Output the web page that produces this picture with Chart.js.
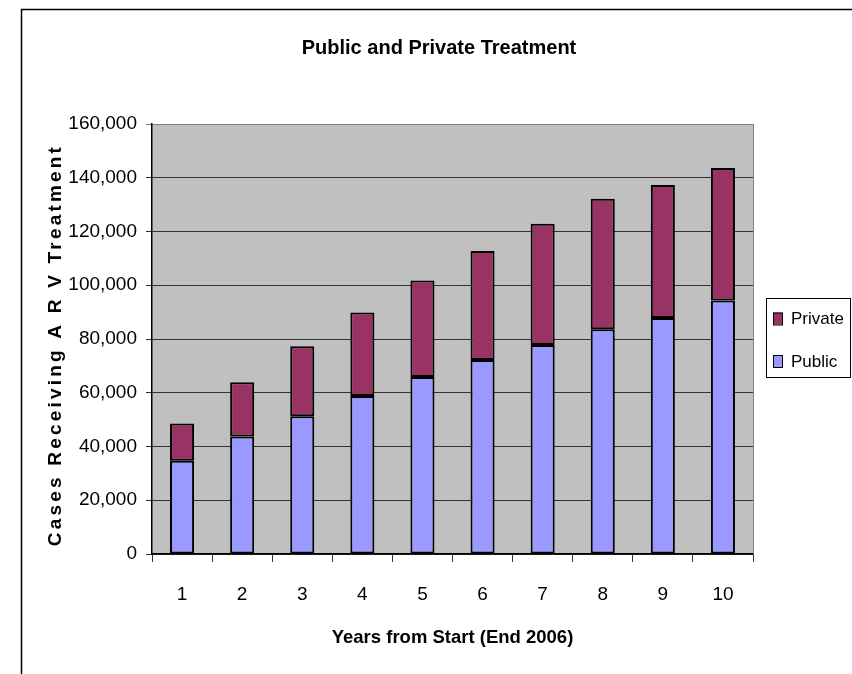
<!DOCTYPE html>
<html>
<head>
<meta charset="utf-8">
<script src="https://cdn.jsdelivr.net/npm/chart.js@4.4.1/dist/chart.umd.min.js"></script>
<style>
  html, body { margin: 0; padding: 0; background: #fff; }
  canvas { display: block; }
</style>
</head>
<body>
<canvas id="myChart" width="852" height="674"></canvas>
<script>
const years = ['1', '2', '3', '4', '5', '6', '7', '8', '9', '10'];
const publicCases = [34700, 43700, 51300, 58800, 65900, 72200, 77800, 83600, 87800, 94300];
const privateCases = [13900, 20200, 26000, 31100, 35900, 40500, 45100, 48600, 49500, 49300];
const yTicks = [0, 20000, 40000, 60000, 80000, 100000, 120000, 140000, 160000];

const sans = '"Liberation Sans", Arial, sans-serif';
const yTitle = 'Cases Receiving A R V Treatment';

// plot background, frame, legend and rotated y title
const decor = {
  id: 'decor',
  beforeDraw(chart) {
    const ctx = chart.ctx;
    const a = chart.chartArea;
    ctx.save();
    ctx.fillStyle = '#fff';
    ctx.fillRect(0, 0, chart.width, chart.height);
    ctx.fillStyle = '#c0c0c0';
    ctx.fillRect(a.left, a.top, a.right - a.left, a.bottom - a.top);
    ctx.restore();
  },
  afterDraw(chart) {
    const ctx = chart.ctx;
    const a = chart.chartArea;
    ctx.save();
    // outer frame (only left + top visible)
    ctx.strokeStyle = '#000';
    ctx.lineWidth = 1.5;
    ctx.beginPath();
    ctx.moveTo(21.5, chart.height);
    ctx.lineTo(21.5, 9.5);
    ctx.lineTo(chart.width, 9.5);
    ctx.stroke();
    // right border of plot
    ctx.strokeStyle = '#808080';
    ctx.lineWidth = 1;
    ctx.beginPath();
    ctx.moveTo(a.right + 0.5, a.top);
    ctx.lineTo(a.right + 0.5, a.bottom);
    ctx.stroke();

    // legend, private on top
    const items = chart.data.datasets.slice().reverse();
    ctx.strokeStyle = '#000';
    ctx.strokeRect(766.5, 298.5, 84, 79);
    ctx.font = '17px ' + sans;
    ctx.textAlign = 'left';
    ctx.textBaseline = 'middle';
    items.forEach((ds, i) => {
      const cy = 318.5 + i * 42.5;
      ctx.fillStyle = ds.backgroundColor;
      ctx.fillRect(773, cy - 6, 9, 12);
      ctx.strokeRect(773.5, cy - 5.5, 9, 12);
      ctx.fillStyle = '#000';
      ctx.fillText(ds.label, 791, cy + 1);
    });

    // y title with letter spacing
    ctx.fillStyle = '#000';
    ctx.font = 'bold 19px ' + sans;
    ctx.letterSpacing = '3.2px';
    ctx.textAlign = 'center';
    ctx.textBaseline = 'middle';
    ctx.translate(56, (a.top + a.bottom) / 2 + 6);
    ctx.rotate(-Math.PI / 2);
    ctx.fillText(yTitle, 0, 0);
    ctx.restore();
  }
};

const data = {
  labels: years,
  datasets: [{
    label: 'Public',
    data: publicCases,
    backgroundColor: '#9999ff',
    borderColor: '#000',
    borderWidth: 2,
    borderSkipped: false,
    barPercentage: 0.4,
    categoryPercentage: 1
  }, {
    label: 'Private',
    data: privateCases,
    backgroundColor: '#993366',
    borderColor: '#000',
    borderWidth: 2,
    borderSkipped: false,
    barPercentage: 0.4,
    categoryPercentage: 1
  }]
};

const config = {
  type: 'bar',
  data: data,
  plugins: [decor],
  options: {
    responsive: false,
    animation: false,
    devicePixelRatio: 1,
    layout: {
      padding: { left: 26, right: 0, top: 0, bottom: 0 }
    },
    plugins: {
      title: {
        display: true,
        text: 'Public and Private Treatment',
        color: '#000',
        font: { family: sans, size: 20, weight: 'bold' },
        padding: { top: 36, bottom: 64 }
      },
      legend: { display: false },
      tooltip: { enabled: false }
    },
    scales: {
      x: {
        stacked: true,
        afterFit(scale) { scale.height = 120; },
        grid: {
          offset: true,
          drawOnChartArea: false,
          tickLength: 8,
          color: '#333'
        },
        border: { color: '#000', width: 1.5 },
        ticks: {
          color: '#000',
          font: { family: sans, size: 19 },
          padding: 21,
          maxRotation: 0
        },
        title: {
          display: true,
          text: 'Years from Start (End 2006)',
          color: '#000',
          font: { family: sans, size: 18.5, weight: 'bold' },
          padding: { top: 0, bottom: 25 }
        }
      },
      y: {
        stacked: true,
        min: 0,
        max: 160000,
        afterFit(scale) { scale.width = 152 - 26; },
        afterBuildTicks(scale) { scale.ticks = yTicks.map(v => ({ value: v })); },
        grid: {
          tickLength: 6,
          color: (c) => c.tick && c.tick.value === 160000 ? '#808080' : '#333'
        },
        border: { color: '#000', width: 1.5 },
        ticks: {
          color: '#000',
          font: { family: sans, size: 19 },
          padding: 9,
          callback: (v) => Number(v).toLocaleString('en-US')
        }
      },
      // empty right-hand axis that only keeps room for the legend
      legendSpace: {
        position: 'right',
        display: true,
        afterFit(scale) { scale.width = 852 - 753; },
        grid: { display: false },
        border: { display: false },
        ticks: { display: false }
      }
    }
  }
};

const myChart = new Chart(document.getElementById('myChart'), config);
</script>
</body>
</html>
